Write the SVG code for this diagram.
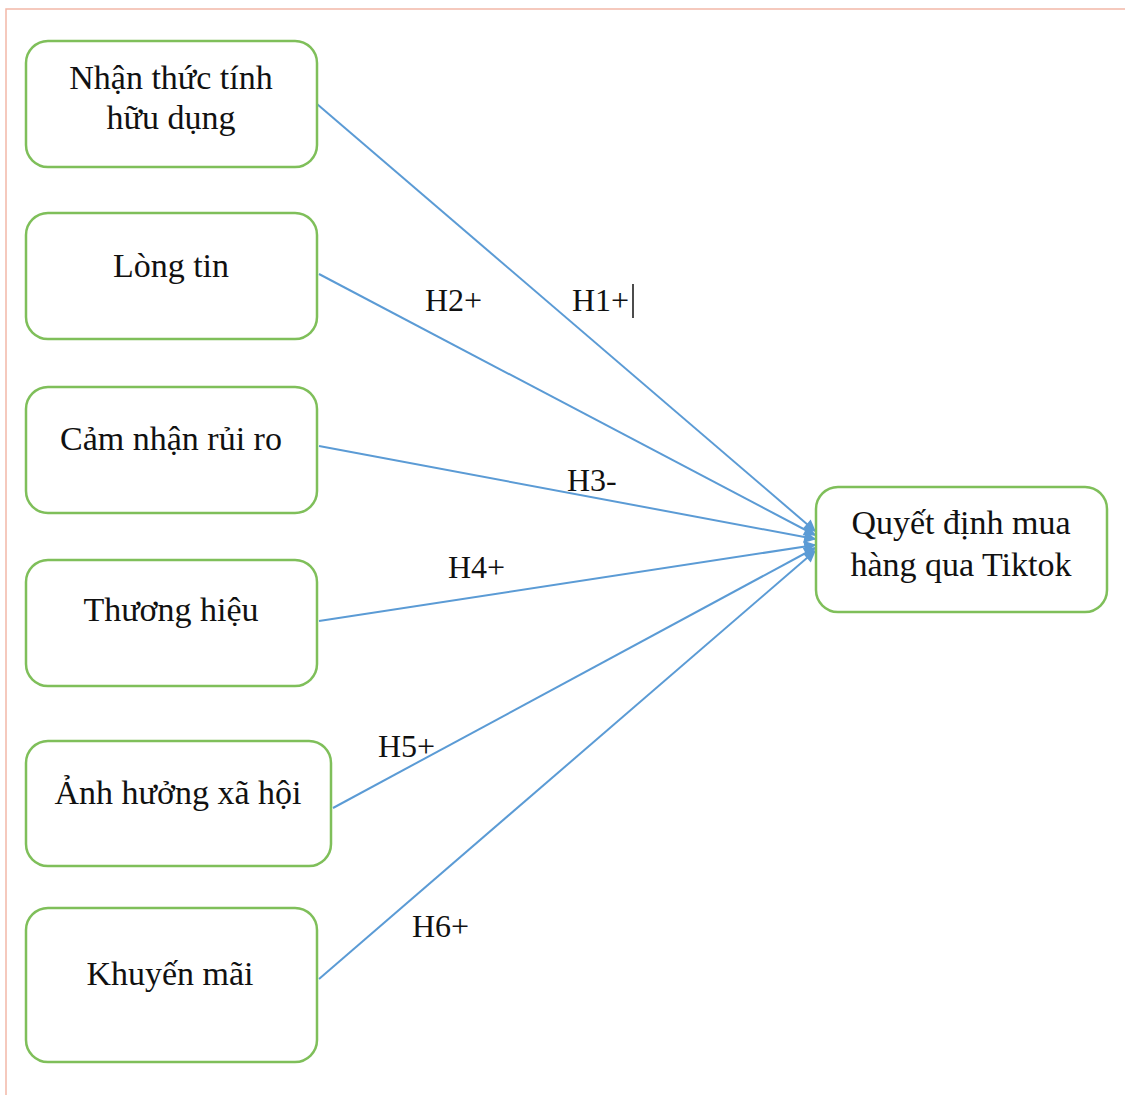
<svg xmlns="http://www.w3.org/2000/svg" width="1125" height="1095" viewBox="0 0 1125 1095">
<style>
.box{fill:#fff;stroke:#7fbf5a;stroke-width:2.5}
.t{font-family:"Liberation Serif","Times New Roman",serif;font-size:34px;fill:#111;text-anchor:middle}
.lb{font-family:"Liberation Serif","Times New Roman",serif;font-size:32px;fill:#111}
.c{stroke:#5b9bd5;stroke-width:2;fill:none;marker-end:url(#ah)}
</style>
<defs>
<marker id="ah" viewBox="0 0 10 10" refX="9" refY="5" markerWidth="14" markerHeight="12" markerUnits="userSpaceOnUse" orient="auto">
<path d="M0,0 L10,5 L0,10 z" fill="#5b9bd5"/>
</marker>
</defs>
<rect width="1125" height="1095" fill="#fff"/>
<path d="M6,1095 V9 H1125" fill="none" stroke="#f2b8a8" stroke-width="1.5"/>
<g id="connectors">
<line class="c" x1="317" y1="104" x2="815" y2="531"/>
<line class="c" x1="319" y1="274" x2="815" y2="535"/>
<line class="c" x1="319" y1="446" x2="815" y2="539"/>
<line class="c" x1="319" y1="621" x2="815" y2="545"/>
<line class="c" x1="333" y1="808" x2="815" y2="548"/>
<line class="c" x1="319" y1="979" x2="815" y2="551"/>
<text class="lb" x="572" y="311">H1+</text>
<line x1="633" y1="284" x2="633" y2="318" stroke="#111" stroke-width="1.5"/>
<text class="lb" x="425" y="311">H2+</text>
<text class="lb" x="567" y="491">H3-</text>
<text class="lb" x="448" y="578">H4+</text>
<text class="lb" x="378" y="757">H5+</text>
<text class="lb" x="412" y="937">H6+</text>
</g>
<g id="n1"><rect class="box" x="26" y="41" width="291" height="126" rx="22"/><text class="t" x="171" y="89">Nhận thức tính</text><text class="t" x="171" y="129">hữu dụng</text></g>
<g id="n2"><rect class="box" x="26" y="213" width="291" height="126" rx="22"/><text class="t" x="171" y="277">Lòng tin</text></g>
<g id="n3"><rect class="box" x="26" y="387" width="291" height="126" rx="22"/><text class="t" x="171" y="450">Cảm nhận rủi ro</text></g>
<g id="n4"><rect class="box" x="26" y="560" width="291" height="126" rx="22"/><text class="t" x="171" y="621">Thương hiệu</text></g>
<g id="n5"><rect class="box" x="26" y="741" width="305" height="125" rx="22"/><text class="t" x="178" y="804">Ảnh hưởng xã hội</text></g>
<g id="n6"><rect class="box" x="26" y="908" width="291" height="154" rx="22"/><text class="t" x="170" y="985">Khuyến mãi</text></g>
<g id="target"><rect class="box" x="816" y="487" width="291" height="125" rx="22"/><text class="t" x="961" y="534">Quyết định mua</text><text class="t" x="961" y="576">hàng qua Tiktok</text></g>
</svg>
